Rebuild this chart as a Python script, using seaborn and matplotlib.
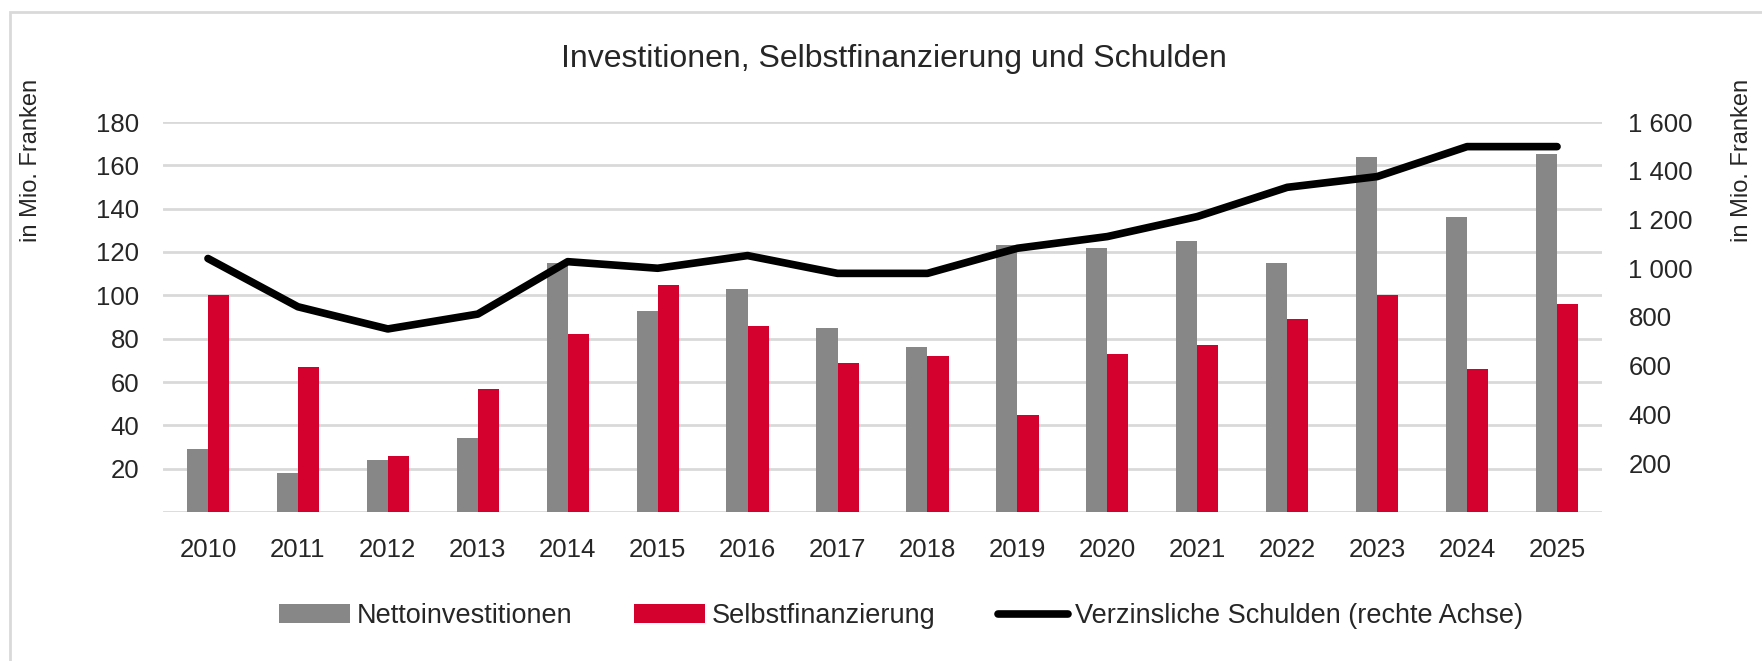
import numpy as np
import pandas as pd
import seaborn as sns
import matplotlib.pyplot as plt
from matplotlib.patches import Rectangle
from matplotlib.lines import Line2D

years = [str(y) for y in range(2010, 2026)]
netto = [29, 18, 24, 34, 115, 93, 103, 85, 76, 123, 122, 125, 115, 164, 136, 165]
selbst = [100, 67, 26, 57, 82, 105, 86, 69, 72, 45, 73, 77, 89, 100, 66, 96]
schulden = [1040, 842, 751, 812, 1027, 1000, 1052, 979, 979, 1082, 1130, 1212, 1332, 1376, 1499, 1499]

left_ticks = [20, 40, 60, 80, 100, 120, 140, 160, 180]
right_ticks = [200, 400, 600, 800, 1000, 1200, 1400, 1600]
right_labels = ["200", "400", "600", "800", "1 000", "1 200", "1 400", "1 600"]

df = pd.DataFrame({
    "Jahr": years * 2,
    "Wert": netto + selbst,
    "Serie": ["Nettoinvestitionen"] * 16 + ["Selbstfinanzierung"] * 16,
})

sns.set_style("white")
plt.rcParams["font.family"] = ["Liberation Sans", "DejaVu Sans"]

grey = "#878787"
red = "#d4002d"
gridc = "#d9d9d9"
txt = "#262626"

fig = plt.figure(figsize=(17.62, 6.61), dpi=100)
ax = fig.add_axes([163 / 1762, 1 - 512 / 661, (1602 - 163) / 1762, 390 / 661])

sns.barplot(data=df, x="Jahr", y="Wert", hue="Serie", palette=[grey, red],
            width=0.47, linewidth=0, saturation=1, ax=ax, zorder=2)
ax.get_legend().remove()
ax.set_ylim(0, 180)
ax.set_yticks(left_ticks)
ax.set_xlim(-0.5, 15.5)
for v in [0] + left_ticks:
    ax.axhline(v, color=gridc, lw=2, zorder=0)
for s in ax.spines.values():
    s.set_visible(False)
ax.tick_params(axis="both", length=0, labelsize=18.5, colors=txt)
ax.tick_params(axis="y", pad=17)
ax.tick_params(axis="x", pad=19)
ax.set_xlabel("")
ax.set_ylabel("")

ax2 = ax.twinx()
sns.lineplot(x=years, y=schulden, ax=ax2, color="black", lw=5.5,
             solid_capstyle="round", label="Verzinsliche Schulden (rechte Achse)")
ax2.get_legend().remove()
ax2.set_ylim(0, 1600)
ax2.set_yticks(right_ticks)
ax2.set_yticklabels(right_labels)
for s in ax2.spines.values():
    s.set_visible(False)
ax2.tick_params(axis="y", length=0, labelsize=18.5, colors=txt, pad=19)
ax2.set_ylabel("")
ax2.grid(False)

fig.text(894 / 1762, 1 - 59 / 661, "Investitionen, Selbstfinanzierung und Schulden",
         ha="center", va="center", fontsize=23, color=txt)
fig.text(31 / 1762, 1 - 160 / 661, "in Mio. Franken", rotation=90,
         ha="center", va="center", fontsize=17, color=txt)
fig.text(1742 / 1762, 1 - 160 / 661, "in Mio. Franken", rotation=90,
         ha="center", va="center", fontsize=17, color=txt)

h, l = ax.get_legend_handles_labels()
line_h = Line2D([], [], color="black", lw=5.5, solid_capstyle="round")
fig.legend(h + [line_h], l + ["Verzinsliche Schulden (rechte Achse)"],
           loc="center", bbox_to_anchor=(901 / 1762, 1 - 616 / 661), ncol=3,
           frameon=False, fontsize=19.5, handlelength=2.6, handleheight=0.65,
           handletextpad=0.25, columnspacing=2.3, labelcolor=txt)

fig.patches.append(Rectangle((10 / 1762, -0.1), 1.2, 1 - 12 / 661 + 0.1,
                             transform=fig.transFigure, fill=False,
                             edgecolor=gridc, lw=2))

fig.savefig("out.png", dpi=100)
